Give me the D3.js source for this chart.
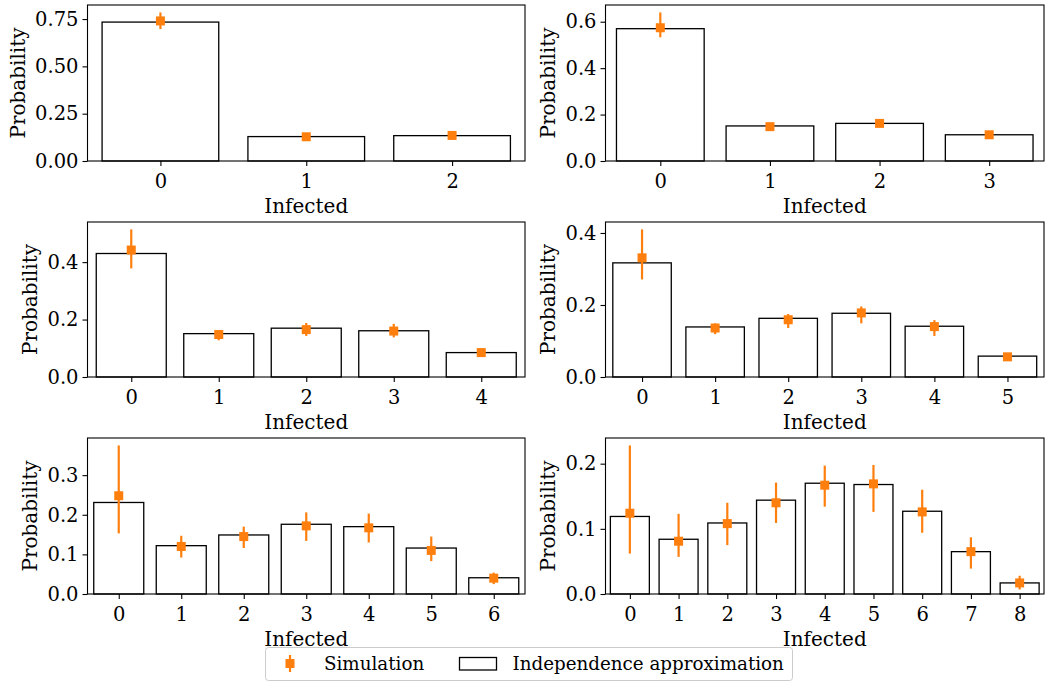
<html>
<head>
<style>
    body { margin: 0; background: #fff; }
    text { font-family: "DejaVu Serif", serif; fill: #000; }
</style>
</head>
<body>

<script src="https://d3js.org/d3.v7.min.js"></script>
<script>

    // independence approximation (bars), one array per panel
    var approx = [
        [0.734, 0.129, 0.134],
        [0.570, 0.151, 0.162, 0.113],
        [0.430, 0.151, 0.170, 0.161, 0.085],
        [0.317, 0.139, 0.163, 0.177, 0.141, 0.058],
        [0.231, 0.122, 0.149, 0.176, 0.170, 0.116, 0.041],
        [0.119, 0.084, 0.109, 0.144, 0.170, 0.168, 0.127, 0.065, 0.017]
    ];

    // simulation means and error bar ends
    var simMean = [
        [0.740, 0.128, 0.135],
        [0.574, 0.148, 0.162, 0.113],
        [0.442, 0.148, 0.165, 0.160, 0.085],
        [0.331, 0.136, 0.159, 0.178, 0.140, 0.056],
        [0.248, 0.120, 0.145, 0.172, 0.167, 0.110, 0.040],
        [0.124, 0.081, 0.108, 0.140, 0.167, 0.169, 0.126, 0.065, 0.017]
    ];
    var simLow = [
        [0.697, 0.122, 0.129],
        [0.533, 0.138, 0.150, 0.105],
        [0.378, 0.128, 0.143, 0.138, 0.080],
        [0.271, 0.119, 0.136, 0.149, 0.114, 0.050],
        [0.153, 0.092, 0.116, 0.134, 0.130, 0.083, 0.025],
        [0.062, 0.057, 0.075, 0.109, 0.134, 0.126, 0.094, 0.039, 0.007]
    ];
    var simHigh = [
        [0.785, 0.134, 0.141],
        [0.640, 0.158, 0.174, 0.121],
        [0.514, 0.160, 0.188, 0.185, 0.090],
        [0.410, 0.149, 0.175, 0.196, 0.158, 0.062],
        [0.375, 0.147, 0.170, 0.206, 0.203, 0.145, 0.054],
        [0.228, 0.123, 0.140, 0.171, 0.197, 0.198, 0.160, 0.087, 0.028]
    ];

    var yTicks = [
        [0, 0.25, 0.5, 0.75],
        [0, 0.2, 0.4, 0.6],
        [0, 0.2, 0.4],
        [0, 0.2, 0.4],
        [0, 0.1, 0.2, 0.3],
        [0, 0.1, 0.2]
    ];
    var yFormats = [".2f", ".1f", ".1f", ".1f", ".1f", ".1f"];

    var width = 1049,
        height = 682;

    var orange = "#ff7f0e";

    var colX = [[87.5, 525], [605.5, 1044]],
        rowY = [[5, 161], [222, 377], [438, 594]];

    var svg = d3.select("body").append("svg").attr("width", width).attr("height", height);

    approx.forEach(function (bars, p) {
        var cx = colX[p % 2], ry = rowY[Math.floor(p / 2)];
        var n = bars.length;
        var top = d3.max(simHigh[p].concat(bars)) * 1.05;

        var x = d3.scaleLinear().domain([-0.5, n - 0.5]).range(cx);
        var y = d3.scaleLinear().domain([0, top]).range([ry[1], ry[0]]);

        var g = svg.append("g");

        // bars
        g.selectAll(".bar").data(bars).enter().append("rect")
            .attr("x", function (d, i) { return x(i - 0.4); })
            .attr("width", x(0.4) - x(-0.4))
            .attr("y", function (d) { return y(d); })
            .attr("height", function (d) { return y(0) - y(d); })
            .attr("fill", "#fff")
            .attr("stroke", "#000")
            .attr("stroke-width", 1.3);

        // error bars
        g.selectAll(".err").data(simMean[p]).enter().append("line")
            .attr("x1", function (d, i) { return x(i); })
            .attr("x2", function (d, i) { return x(i); })
            .attr("y1", function (d, i) { return y(simLow[p][i]); })
            .attr("y2", function (d, i) { return y(simHigh[p][i]); })
            .attr("stroke", orange)
            .attr("stroke-width", 2.2);

        g.selectAll(".pt").data(simMean[p]).enter().append("rect")
            .attr("x", function (d, i) { return x(i) - 4.5; })
            .attr("y", function (d) { return y(d) - 4.5; })
            .attr("width", 9)
            .attr("height", 9)
            .attr("fill", orange);

        // axes
        var xa = g.append("g").attr("transform", "translate(0," + ry[1] + ")")
            .call(d3.axisBottom(x).tickValues(d3.range(n)).tickFormat(d3.format("d")).tickSize(5).tickPadding(8));
        var ya = g.append("g").attr("transform", "translate(" + cx[0] + ",0)")
            .call(d3.axisLeft(y).tickValues(yTicks[p]).tickFormat(d3.format(yFormats[p])).tickSize(5).tickPadding(4));

        [xa, ya].forEach(function (a) {
            a.select(".domain").remove();
            a.selectAll("line").attr("stroke", "#000").attr("stroke-width", 1.1);
            a.selectAll("text").style("font-size", "19.5px").style("font-family", "DejaVu Serif");
        });

        // frame
        g.append("rect")
            .attr("x", cx[0]).attr("y", ry[0])
            .attr("width", cx[1] - cx[0]).attr("height", ry[1] - ry[0])
            .attr("fill", "none").attr("stroke", "#000").attr("stroke-width", 1.1);

        var tickLeft = d3.min(ya.selectAll("text").nodes(), function (t) { return t.getBBox().x; }) + cx[0];

        g.append("text")
            .attr("transform", "translate(" + (tickLeft - 10.5) + "," + ((ry[0] + ry[1]) / 2) + ") rotate(-90)")
            .attr("text-anchor", "middle")
            .style("font-size", "20px")
            .text("Probability");

        g.append("text")
            .attr("x", (cx[0] + cx[1]) / 2)
            .attr("y", ry[1] + 52)
            .attr("text-anchor", "middle")
            .style("font-size", "20px")
            .text("Infected");
    });

    // legend
    var lg = svg.append("g");
    lg.append("rect")
        .attr("x", 265.5).attr("y", 647.5).attr("width", 527).attr("height", 33)
        .attr("rx", 3)
        .attr("fill", "#fff").attr("stroke", "#ccc").attr("stroke-width", 1);
    lg.append("line")
        .attr("x1", 290).attr("x2", 290).attr("y1", 655).attr("y2", 672)
        .attr("stroke", orange).attr("stroke-width", 2.2);
    lg.append("rect")
        .attr("x", 285.5).attr("y", 659).attr("width", 9).attr("height", 9)
        .attr("fill", orange);
    lg.append("text").attr("x", 324).attr("y", 670).style("font-size", "18.3px").text("Simulation");
    lg.append("rect")
        .attr("x", 459.5).attr("y", 657.5).attr("width", 37).attr("height", 12.5)
        .attr("fill", "#fff").attr("stroke", "#000").attr("stroke-width", 1.3);
    lg.append("text").attr("x", 512.5).attr("y", 670).style("font-size", "18.3px").text("Independence approximation");

</script>
</body>
</html>
